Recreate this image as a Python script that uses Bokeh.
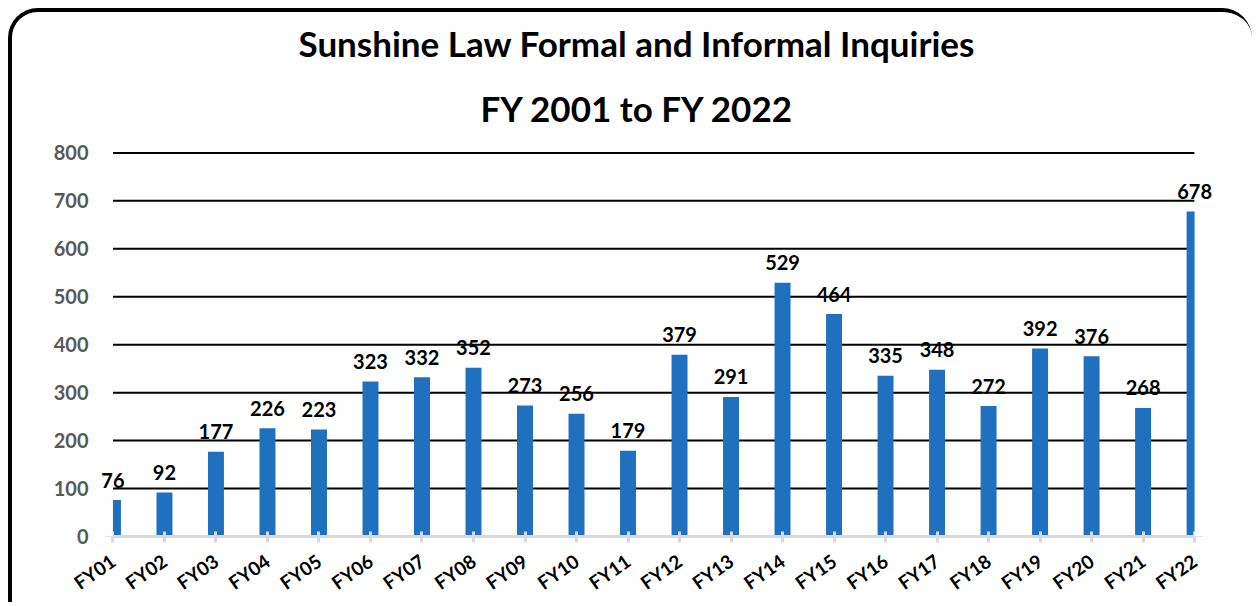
import math
from bokeh.plotting import figure
from bokeh.models import (Range1d, FixedTicker, Label, Title, BoxAnnotation)
from bokeh.embed import file_html
from bokeh.resources import INLINE

categories = ["FY01", "FY02", "FY03", "FY04", "FY05", "FY06", "FY07", "FY08",
              "FY09", "FY10", "FY11", "FY12", "FY13", "FY14", "FY15", "FY16",
              "FY17", "FY18", "FY19", "FY20", "FY21", "FY22"]
values = [76, 92, 177, 226, 223, 323, 332, 352, 273, 256, 179, 379, 291, 529,
          464, 335, 348, 272, 392, 376, 268, 678]
y_ticks = [0, 100, 200, 300, 400, 500, 600, 700, 800]

FONT = "Lato"
xs = list(range(1, len(categories) + 1))

p = figure(width=1244, height=594, output_backend="svg", toolbar_location=None,
           x_range=Range1d(0.70, 22.6), y_range=Range1d(0, 805),
           min_border_left=85, min_border_right=31, min_border_top=138,
           min_border_bottom=70)
p.styles = {"margin-left": "8px", "margin-top": "8px",
            "border-top": "4px solid black", "border-left": "4px solid black",
            "border-top-left-radius": "30px", "border-top-right-radius": "30px",
            "overflow": "hidden"}
p.outline_line_color = None
p.background_fill_color = "white"
p.border_fill_color = "white"

# grid lines spanning the category extent
gy = y_ticks[1:]
p.segment(x0=[xs[0]] * len(gy), x1=[xs[-1]] * len(gy), y0=gy, y1=gy,
          line_color="black", line_width=2, level="underlay")
p.xgrid.grid_line_color = None
p.ygrid.grid_line_color = None

p.vbar(x=xs, top=values, width=0.31, bottom=0,
       fill_color="#1f70bf", line_color=None)

# half-clip the end bars like the original (plot area ends at first/last category)
p.add_layout(BoxAnnotation(right=xs[0], fill_color="white", fill_alpha=1,
                           line_color=None))
p.add_layout(BoxAnnotation(left=xs[-1], fill_color="white", fill_alpha=1,
                           line_color=None))

for x, v in zip(xs, values):
    p.add_layout(Label(x=x, y=v, text=str(v), y_offset=20,
                       text_align="center", text_baseline="alphabetic",
                       text_font=FONT, text_font_style="bold",
                       text_font_size="20px", text_color="black"))

# title (two lines)
p.title.text = "Sunshine Law Formal and Informal Inquiries"
p.title.align = "left"
p.title.offset = 201
p.title.text_font = FONT
p.title.text_font_size = "35px"
p.title.text_font_style = "bold"
p.title.text_color = "black"
p.title.standoff = 0
t2 = Title(text="FY 2001 to FY 2022", align="left", offset=383,
           text_font=FONT, text_font_size="35px", text_font_style="bold",
           text_color="black", standoff=43)
p.add_layout(t2, "above")

# y axis
p.yaxis.ticker = FixedTicker(ticks=y_ticks)
p.yaxis.axis_line_color = None
p.yaxis.major_tick_line_color = None
p.yaxis.major_tick_out = 0
p.yaxis.major_tick_in = 0
p.yaxis.minor_tick_line_color = None
p.yaxis.major_label_text_font = FONT
p.yaxis.major_label_text_font_style = "bold"
p.yaxis.major_label_text_font_size = "20px"
p.yaxis.major_label_text_color = "#595959"
p.yaxis.major_label_standoff = 9

# x axis
p.xaxis.ticker = FixedTicker(ticks=xs)
p.xaxis.bounds = (xs[0], xs[-1])
p.xaxis.major_label_overrides = {x: c for x, c in zip(xs, categories)}
p.xaxis.axis_line_color = "#d9d9d9"
p.xaxis.axis_line_width = 3
p.xaxis.major_tick_line_color = "#d9d9d9"
p.xaxis.major_tick_line_width = 3
p.xaxis.major_tick_in = 5
p.xaxis.major_tick_out = 6
p.xaxis.minor_tick_line_color = None
p.xaxis.major_label_orientation = math.radians(35)
p.xaxis.major_label_text_font = FONT
p.xaxis.major_label_text_font_style = "bold"
p.xaxis.major_label_text_font_size = "19px"
p.xaxis.major_label_text_color = "black"
p.xaxis.major_label_standoff = 16

open("out.html", "w").write(file_html(p, INLINE))
